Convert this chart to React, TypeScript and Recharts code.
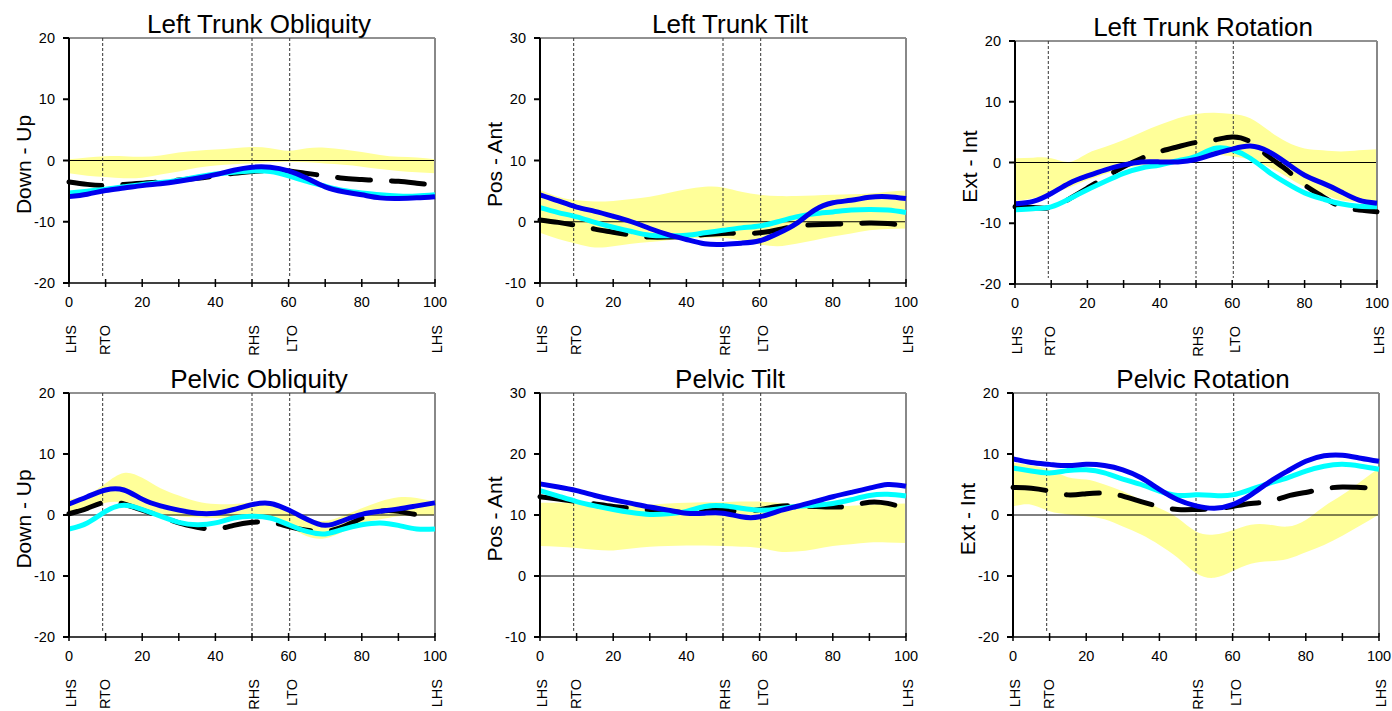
import React from "react";
import { ComposedChart, Area, Line, XAxis, YAxis, ReferenceLine } from "recharts";

// % of gait cycle, sampled every 5
const PCT = [0, 5, 10, 15, 20, 25, 30, 35, 40, 45, 50, 55, 60, 65, 70, 75, 80, 85, 90, 95, 100];
const X_TICKS = [0, 10, 20, 30, 40, 50, 60, 70, 80, 90, 100];
const EVENTS = [0, 9.2, 50, 60.3, 100];
const EVENT_LABELS = ["LHS", "RTO", "RHS", "LTO", "LHS"];

// Left Trunk Obliquity
const tobBandHi = [0.2, 0.5, 0.7, 0.7, 0.6, 0.8, 1.3, 1.6, 1.8, 2.0, 2.2, 2.0, 1.6, 2.0, 2.1, 1.8, 1.4, 0.9, 0.6, 0.5, 0.2];
const tobBandLo = [-2.1, -2.5, -2.7, -2.9, -2.8, -2.3, -1.8, -1.2, -0.8, -0.6, -0.5, -0.3, -0.2, -0.3, -0.5, -0.7, -1.0, -1.4, -1.7, -1.9, -2.1];
const tobNorm = [-3.5, -3.9, -4.1, -3.9, -3.7, -3.5, -3.2, -2.9, -2.5, -2.1, -1.8, -1.6, -1.7, -2.1, -2.5, -2.9, -3.1, -3.3, -3.4, -3.7, -4.0];
const tobCyan = [-5.3, -5.0, -4.7, -4.3, -3.9, -3.6, -3.2, -2.7, -2.2, -1.9, -1.7, -1.8, -2.5, -3.4, -4.2, -4.9, -5.3, -5.6, -5.8, -5.8, -5.6];
const tobBlue = [-5.9, -5.5, -4.9, -4.5, -4.1, -3.8, -3.4, -2.9, -2.3, -1.6, -1.1, -1.1, -1.7, -2.9, -4.3, -5.1, -5.6, -6.1, -6.2, -6.1, -5.9];

// Left Trunk Tilt
const ttiBandHi = [5.2, 4.1, 3.5, 3.3, 3.4, 3.7, 4.1, 4.7, 5.3, 5.7, 5.6, 4.9, 4.4, 4.2, 4.2, 4.3, 4.4, 4.5, 4.6, 4.9, 5.1];
const ttiBandLo = [-1.8, -2.8, -3.6, -4.2, -4.0, -3.6, -3.3, -3.0, -2.7, -2.6, -2.6, -3.1, -3.7, -4.0, -3.6, -3.0, -2.4, -1.9, -1.4, -1.2, -1.1];
const ttiNorm = [0.3, -0.1, -0.6, -1.2, -1.7, -2.2, -2.5, -2.5, -2.4, -2.1, -1.9, -1.9, -1.8, -1.3, -0.7, -0.5, -0.4, -0.3, -0.2, -0.3, -0.6];
const ttiCyan = [2.3, 1.5, 0.8, -0.1, -0.9, -1.6, -2.2, -2.3, -2.2, -1.8, -1.4, -1.0, -0.7, 0.0, 0.8, 1.3, 1.6, 1.9, 2.0, 1.9, 1.5];
const ttiBlue = [4.4, 3.4, 2.4, 1.7, 0.9, 0.0, -1.1, -2.1, -2.9, -3.6, -3.7, -3.5, -3.1, -1.9, -0.3, 1.9, 3.1, 3.5, 4.0, 4.1, 3.8];

// Left Trunk Rotation
const troBandHi = [0.7, 0.8, 0.7, 0.1, 1.5, 2.6, 3.7, 5.0, 6.2, 7.3, 8.0, 8.2, 8.0, 7.3, 5.3, 3.4, 2.3, 2.0, 1.8, 2.0, 2.2];
const troBandLo = [-6.4, -5.9, -5.1, -4.1, -2.9, -1.9, -1.0, -0.5, -0.1, 0.3, 0.7, 1.2, 1.0, 0.5, -0.7, -2.3, -4.0, -5.2, -6.2, -6.5, -6.7];
const troNorm = [-7.3, -7.4, -7.4, -6.0, -4.2, -2.4, -0.7, 0.7, 1.8, 2.6, 3.3, 3.7, 4.2, 3.4, 1.0, -1.2, -3.7, -5.6, -7.3, -7.8, -8.1];
const troCyan = [-7.8, -7.6, -7.3, -6.0, -4.5, -3.1, -1.8, -0.9, -0.4, 0.3, 1.0, 2.3, 2.1, 0.7, -1.5, -3.4, -5.0, -6.0, -6.8, -7.2, -7.3];
const troBlue = [-6.8, -6.4, -5.1, -3.4, -2.2, -1.2, -0.4, 0.1, 0.1, 0.1, 0.5, 1.4, 2.2, 2.7, 1.8, -0.1, -2.1, -3.4, -4.8, -6.2, -6.7];

// Pelvic Obliquity
const pobBandHi = [2.5, 3.3, 5.2, 6.9, 6.1, 4.4, 3.2, 2.2, 1.8, 1.8, 2.1, 2.0, 0.9, -0.5, -1.0, -0.1, 1.1, 2.2, 2.9, 2.8, 2.2];
const pobBandLo = [0.3, 0.9, 2.0, 2.0, 1.0, 0.2, -0.2, -0.4, -0.5, -0.4, -0.3, -0.7, -1.9, -3.5, -3.8, -2.7, -1.3, -0.7, -0.2, -0.1, 0.0];
const pobNorm = [0.2, 1.1, 2.1, 1.8, 0.8, -0.2, -1.3, -2.0, -2.3, -1.7, -1.2, -1.2, -1.9, -2.5, -2.7, -1.9, -0.5, 0.6, 0.6, 0.1, 0.2];
const pobCyan = [-2.3, -1.3, 0.6, 1.6, 0.9, -0.2, -1.2, -1.6, -1.3, -0.5, -0.2, -0.5, -1.6, -2.7, -3.1, -2.3, -1.6, -1.3, -1.7, -2.3, -2.3];
const pobBlue = [1.8, 3.0, 4.1, 4.1, 2.6, 1.5, 0.8, 0.3, 0.3, 0.9, 1.7, 1.9, 0.8, -0.7, -1.7, -0.9, 0.1, 0.6, 1.0, 1.5, 2.0];

// Pelvic Tilt
const ptiBandHi = [12.0, 12.0, 12.0, 11.8, 11.5, 11.6, 11.7, 11.9, 12.0, 12.1, 12.1, 12.2, 12.2, 12.0, 11.7, 11.5, 11.4, 11.5, 11.7, 11.8, 11.9];
const ptiBandLo = [4.9, 4.8, 4.6, 4.3, 4.2, 4.5, 4.8, 4.9, 5.0, 5.0, 4.9, 4.8, 4.6, 4.0, 4.0, 4.4, 4.9, 5.2, 5.5, 5.5, 5.4];
const ptiNorm = [13.0, 12.6, 12.2, 11.8, 11.4, 11.1, 10.8, 10.6, 10.4, 10.6, 10.8, 10.6, 10.9, 11.4, 11.5, 11.4, 11.3, 11.5, 12.1, 11.9, 11.1];
const ptiCyan = [14.0, 13.1, 12.2, 11.5, 10.9, 10.4, 10.1, 10.2, 10.6, 11.4, 11.5, 11.1, 10.8, 11.0, 11.4, 11.6, 11.9, 12.5, 13.2, 13.4, 13.1];
const ptiBlue = [15.1, 14.6, 14.0, 13.2, 12.5, 11.9, 11.3, 10.8, 10.3, 10.3, 10.3, 9.7, 9.7, 10.6, 11.4, 12.2, 13.0, 13.7, 14.4, 15.0, 14.7];

// Pelvic Rotation
const proBandHi = [8.6, 8.1, 7.4, 6.2, 5.8, 5.0, 3.9, 2.5, 1.1, -0.5, -2.7, -3.2, -2.5, -1.6, -1.6, -1.9, -0.8, 1.4, 3.3, 5.5, 7.7];
const proBandLo = [1.4, 1.7, 0.6, 0.1, -0.2, -0.7, -1.9, -3.2, -4.9, -7.0, -9.5, -10.3, -9.2, -8.0, -7.6, -7.2, -6.1, -4.9, -3.4, -1.7, 0.1];
const proNorm = [4.5, 4.4, 3.9, 3.3, 3.5, 3.6, 3.1, 2.2, 1.4, 0.9, 0.9, 1.0, 1.4, 1.9, 2.2, 3.1, 3.7, 4.3, 4.6, 4.5, 4.4];
const proCyan = [7.7, 7.2, 6.9, 7.3, 7.4, 6.9, 5.9, 5.0, 3.9, 3.2, 3.3, 3.2, 3.3, 4.2, 5.2, 6.1, 7.2, 8.0, 8.3, 8.0, 7.5];
const proBlue = [9.2, 8.6, 8.3, 8.1, 8.3, 8.1, 7.4, 6.1, 4.2, 2.5, 1.5, 1.1, 1.7, 3.3, 5.4, 7.2, 8.8, 9.7, 9.8, 9.3, 8.8];

const TICKS_20 = [-20, -10, 0, 10, 20];
const TICKS_30 = [-10, 0, 10, 20, 30];

const FONT = "'Liberation Sans', Arial, sans-serif";

function build(hi: number[], lo: number[], norm: number[], cyan: number[], blue: number[]) {
  return PCT.map((x, i) => ({ x, band: [lo[i], hi[i]], norm: norm[i], cyan: cyan[i], blue: blue[i] }));
}

const PANELS = [
  { title: "Left Trunk Obliquity", yLabel: "Down - Up", left: 69, top: 38, w: 366, h: 245, ticks: TICKS_20, data: build(tobBandHi, tobBandLo, tobNorm, tobCyan, tobBlue) },
  { title: "Left Trunk Tilt", yLabel: "Pos - Ant", left: 540, top: 38, w: 366, h: 245, ticks: TICKS_30, data: build(ttiBandHi, ttiBandLo, ttiNorm, ttiCyan, ttiBlue) },
  { title: "Left Trunk Rotation", yLabel: "Ext - Int", left: 1015, top: 41, w: 362, h: 243, ticks: TICKS_20, data: build(troBandHi, troBandLo, troNorm, troCyan, troBlue) },
  { title: "Pelvic Obliquity", yLabel: "Down - Up", left: 69, top: 393, w: 366, h: 244, ticks: TICKS_20, data: build(pobBandHi, pobBandLo, pobNorm, pobCyan, pobBlue) },
  { title: "Pelvic Tilt", yLabel: "Pos - Ant", left: 540, top: 393, w: 366, h: 244, ticks: TICKS_30, data: build(ptiBandHi, ptiBandLo, ptiNorm, ptiCyan, ptiBlue) },
  { title: "Pelvic Rotation", yLabel: "Ext - Int", left: 1013, top: 393, w: 366, h: 244, ticks: TICKS_20, data: build(proBandHi, proBandLo, proNorm, proCyan, proBlue) },
];

const PAD_L = 60;
const PAD_T = 40;

const EventTick = (props: any) => {
  const { x, y, index } = props;
  const bx = x + 7;
  const by = y + 12;
  return (
    <text x={bx} y={by} transform={`rotate(-90, ${bx}, ${by})`} textAnchor="end" style={{ fontSize: 14.5 }} fill="#000">
      {EVENT_LABELS[index]}
    </text>
  );
};

const YLabel = (props: any) => {
  const { text, cx, cy } = props;
  return (
    <text
      x={cx}
      y={cy}
      transform={`rotate(-90, ${cx}, ${cy})`}
      textAnchor="middle"
      dominantBaseline="central"
      style={{ fontSize: 21 }}
      fill="#000"
    >
      {text}
    </text>
  );
};

function Panel({ p }: { p: (typeof PANELS)[number] }) {
  const yMin = p.ticks[0];
  const yMax = p.ticks[p.ticks.length - 1];
  return (
    <>
      <div
        style={{
          position: "absolute",
          left: p.left + p.w / 2 + 7,
          top: p.top - 27,
          transform: "translateX(-50%)",
          fontSize: 26,
          lineHeight: "26px",
          whiteSpace: "nowrap",
          color: "#000",
        }}
      >
        {p.title}
      </div>
      <div style={{ position: "absolute", left: p.left - PAD_L, top: p.top - PAD_T }}>
        <ComposedChart
          width={p.w + PAD_L + 20}
          height={p.h + PAD_T + 80}
          data={p.data}
          margin={{ top: PAD_T, right: 20, bottom: 0, left: 0 }}
        >
          <XAxis
            dataKey="x"
            type="number"
            domain={[0, 100]}
            ticks={X_TICKS}
            interval={0}
            tickFormatter={(v) => (v % 20 === 0 ? String(v) : "")}
            height={30}
            tickSize={8}
            tickMargin={6}
            tickLine={{ stroke: "#000", transform: "translate(0,-4)" }}
            stroke="#000"
            strokeWidth={1.5}
            tick={{ fill: "#000", fontSize: 14.5 }}
          />
          <XAxis
            xAxisId="ev"
            dataKey="x"
            type="number"
            domain={[0, 100]}
            ticks={EVENTS}
            interval={0}
            height={50}
            axisLine={false}
            tickLine={false}
            tickSize={0}
            tickMargin={0}
            tick={<EventTick />}
          />
          <YAxis
            type="number"
            domain={[yMin, yMax]}
            ticks={p.ticks}
            interval={0}
            width={PAD_L}
            tickSize={6}
            tickMargin={8}
            stroke="#000"
            strokeWidth={2}
            tick={{ fill: "#000", fontSize: 14.5 }}
            label={<YLabel text={p.yLabel} cx={PAD_L - 46} cy={PAD_T + p.h / 2 + 4} />}
          />
          <Area
            dataKey="band"
            type="natural"
            fill="#ffff99"
            fillOpacity={1}
            stroke="none"
            isAnimationActive={false}
          />
          <ReferenceLine y={0} stroke="#000" strokeWidth={1} />
          <ReferenceLine y={yMax} stroke="#222" strokeWidth={1} />
          <ReferenceLine x={100} stroke="#888" strokeWidth={2} />
          {EVENTS.slice(1, 4).map((e) => (
            <ReferenceLine
              key={e}
              segment={[
                { x: e, y: yMax },
                { x: e, y: yMin + (yMax - yMin) * 0.025 },
              ]}
              stroke="#333"
              strokeWidth={1}
              strokeDasharray="3 2"
            />
          ))}
          <Line
            dataKey="norm"
            type="natural"
            stroke="#000"
            strokeWidth={5}
            strokeDasharray="33 21"
            strokeLinecap="round"
            dot={false}
            isAnimationActive={false}
          />
          <Line dataKey="cyan" type="natural" stroke="#00ffff" strokeWidth={5} dot={false} isAnimationActive={false} />
          <Line dataKey="blue" type="natural" stroke="#0000ee" strokeWidth={5} dot={false} isAnimationActive={false} />
        </ComposedChart>
      </div>
    </>
  );
}

export default function App() {
  return (
    <div
      style={{
        position: "absolute",
        left: 0,
        top: 0,
        width: 1392,
        height: 711,
        background: "#fff",
        fontFamily: FONT,
        overflow: "hidden",
      }}
    >
      {PANELS.map((p) => (
        <Panel key={p.title} p={p} />
      ))}
    </div>
  );
}
